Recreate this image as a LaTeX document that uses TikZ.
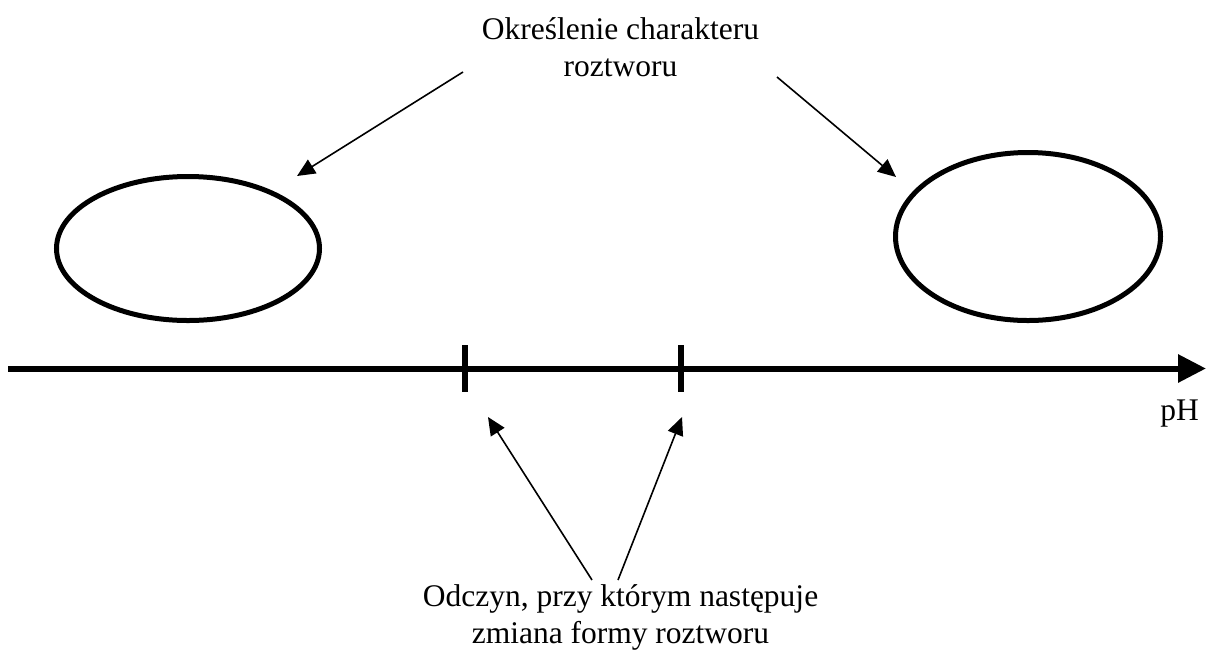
\documentclass[tikz,border=0pt]{standalone}
\usepackage{fontspec}
\setmainfont{Liberation Serif}
\usetikzlibrary{arrows.meta,shapes.geometric}
\begin{document}
\begin{tikzpicture}[x=1pt,y=-1pt,
  lbl/.style={font=\fontsize{31.5}{37}\selectfont, align=center, inner sep=0pt},
  oval/.style={draw, ellipse, line width=5pt, inner sep=0pt},
  thin arrow/.style={line width=1.6pt, -{Triangle[length=18pt,width=16pt]}},
  axis/.style={line width=6pt, -{Triangle[length=28pt,width=27pt]}},
  tickmark/.style={line width=6pt}]
\useasboundingbox (0,0) rectangle (1206,657);
\node[lbl, anchor=base] (top) at (620.5,76) {Określenie charakteru\\roztworu};
\node[lbl, anchor=base] (bot) at (620.5,643) {Odczyn, przy którym następuje\\zmiana formy roztworu};
\node[lbl, anchor=base] (ph) at (1179.5,420) {pH};
\node[oval, minimum width=263pt, minimum height=144pt] (e1) at (188,248.5) {};
\node[oval, minimum width=265pt, minimum height=168pt] (e2) at (1028,236.5) {};
\coordinate (a0) at (8,368.5);
\coordinate (a1) at (1206,368.5);
\draw[axis] (a0) -- (a1);
\coordinate (t1a) at (464.5,345); \coordinate (t1b) at (464.5,392);
\coordinate (t2a) at (680.5,345); \coordinate (t2b) at (680.5,392);
\draw[tickmark] (t1a) -- (t1b);
\draw[tickmark] (t2a) -- (t2b);
\coordinate (s1) at (463,72); \coordinate (p1) at (297,176);
\coordinate (s2) at (777,77); \coordinate (p2) at (896,177);
\coordinate (s3) at (592,580); \coordinate (p3) at (488,417);
\coordinate (s4) at (618,580); \coordinate (p4) at (682,417);
\draw[thin arrow] (s1) -- (p1);
\draw[thin arrow] (s2) -- (p2);
\draw[thin arrow] (s3) -- (p3);
\draw[thin arrow] (s4) -- (p4);
\end{tikzpicture}
\end{document}
